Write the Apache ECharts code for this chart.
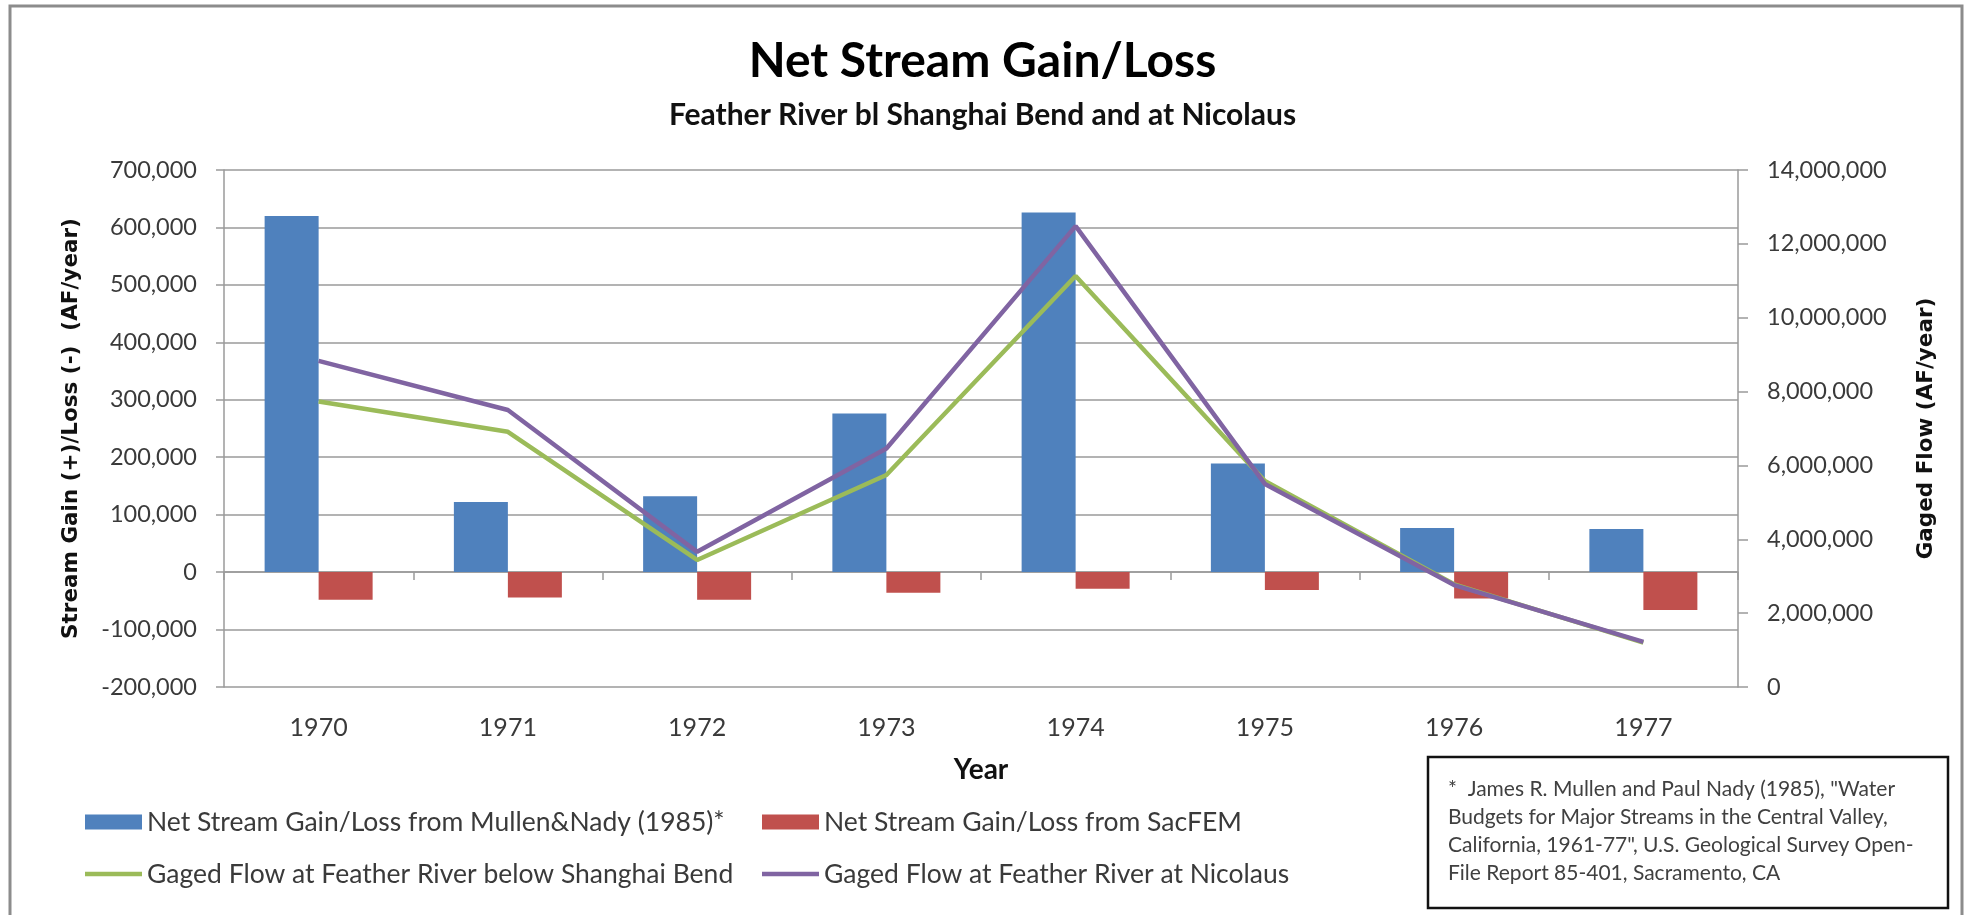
<!DOCTYPE html>
<html>
<head>
<meta charset="utf-8">
<script src="https://cdn.jsdelivr.net/npm/echarts@6/dist/echarts.min.js"></script>
<style>
  html, body { margin: 0; padding: 0; background: #fff; }
  #chart { width: 1965px; height: 915px; }
</style>
</head>
<body>
<div id="chart"></div>
<script>
const years = ["1970", "1971", "1972", "1973", "1974", "1975", "1976", "1977"];
// left axis, AF/year
const mullenNady = [620000, 122000, 132000, 276000, 626000, 189000, 77000, 75000];
const sacFem = [-48000, -44000, -48000, -36000, -29000, -31000, -46000, -66000];
// right axis, AF/year
const shanghaiBend = [7730000, 6910000, 3440000, 5740000, 11130000, 5580000, 2780000, 1200000];
const nicolaus = [8830000, 7500000, 3660000, 6460000, 12480000, 5500000, 2760000, 1220000];

const names = [
  "Net Stream Gain/Loss from Mullen&Nady (1985)*",
  "Net Stream Gain/Loss from SacFEM",
  "Gaged Flow at Feather River below Shanghai Bend",
  "Gaged Flow at Feather River at Nicolaus",
];
const footnote = [
  '*  James R. Mullen and Paul Nady (1985), "Water',
  "Budgets for Major Streams in the Central Valley,",
  'California, 1961-77", U.S. Geological Survey Open-',
  "File Report 85-401, Sacramento, CA",
];

const FONT = "Lato";
const AXIS_NAME_FONT = "DejaVu Sans";
const TXT = "#3a3a3a";
const GRID_GRAY = "#9a9a9a";
const LINE_ICON = "path://M0,0H57V4.5H0Z";
const fmt = (v) => Number(v).toLocaleString("en-US");

const chart = echarts.init(document.getElementById("chart"));

const legendText = { fontFamily: FONT, fontSize: 26.5, color: TXT, lineHeight: 30 };
const legendBase = {
  orient: "vertical",
  top: 807,
  padding: 0,
  itemWidth: 57,
  itemHeight: 15,
  itemGap: 22,
  textStyle: legendText,
};

chart.setOption({
  animation: false,
  backgroundColor: "#fff",
  title: [
    {
      text: "Net Stream Gain/Loss",
      left: "center",
      top: 33,
      textStyle: { fontFamily: FONT, fontWeight: "bold", fontSize: 48, color: "#000" },
    },
    {
      text: "Feather River bl Shanghai Bend and at Nicolaus",
      left: "center",
      top: 95,
      textStyle: { fontFamily: FONT, fontWeight: "bold", fontSize: 30, color: "#111" },
    },
  ],
  grid: { left: 224, right: 227, top: 170, bottom: 228, containLabel: false, outerBoundsMode: "none" },
  legend: [
    Object.assign({}, legendBase, {
      left: 85,
      data: [{ name: names[0], icon: "rect" }, { name: names[2], icon: LINE_ICON }],
    }),
    Object.assign({}, legendBase, {
      left: 762,
      data: [{ name: names[1], icon: "rect" }, { name: names[3], icon: LINE_ICON }],
    }),
  ],
  xAxis: [
    {
      type: "category",
      data: years,
      position: "bottom",
      axisLine: { onZero: true, onZeroAxisIndex: 0, lineStyle: { color: GRID_GRAY, width: 1.5 } },
      axisTick: { show: true, length: 8, lineStyle: { color: GRID_GRAY, width: 1.5 } },
      axisLabel: { show: false },
    },
    {
      type: "category",
      data: years,
      position: "bottom",
      axisLine: { show: false, onZero: false },
      axisTick: { show: false },
      axisLabel: { margin: 28, fontFamily: FONT, fontSize: 25, color: TXT },
      name: "Year",
      nameLocation: "middle",
      nameGap: 69,
      nameTextStyle: { fontFamily: FONT, fontWeight: "bold", fontSize: 28, color: "#111" },
    },
  ],
  yAxis: [
    {
      type: "value",
      min: -200000,
      max: 700000,
      interval: 100000,
      axisLine: { show: true, lineStyle: { color: GRID_GRAY, width: 1.5 } },
      axisTick: { show: true, length: 8, lineStyle: { color: GRID_GRAY, width: 1.5 } },
      splitLine: { lineStyle: { color: GRID_GRAY, width: 1.5 } },
      axisLabel: { margin: 27, fontFamily: FONT, fontSize: 23.5, color: TXT, formatter: fmt },
      name: "Stream Gain (+)/Loss (-)  (AF/year)",
      nameLocation: "middle",
      nameRotate: 90,
      nameGap: 142,
      nameTextStyle: { fontFamily: AXIS_NAME_FONT, fontWeight: "bold", fontSize: 21.5, color: "#111" },
    },
    {
      type: "value",
      position: "right",
      min: 0,
      max: 14000000,
      interval: 2000000,
      axisLine: { show: true, lineStyle: { color: GRID_GRAY, width: 1.5 } },
      axisTick: { show: true, length: 10, lineStyle: { color: GRID_GRAY, width: 1.5 } },
      splitLine: { show: false },
      axisLabel: { margin: 29, fontFamily: FONT, fontSize: 23.5, color: TXT, formatter: fmt },
      name: "Gaged Flow (AF/year)",
      nameLocation: "middle",
      nameRotate: 90,
      nameGap: 177,
      nameTextStyle: { fontFamily: AXIS_NAME_FONT, fontWeight: "bold", fontSize: 21.5, color: "#111" },
    },
  ],
  series: [
    {
      name: names[0],
      type: "bar",
      data: mullenNady,
      barWidth: 54,
      barGap: "0%",
      itemStyle: { color: "#4F81BD" },
    },
    {
      name: names[1],
      type: "bar",
      data: sacFem,
      barWidth: 54,
      barGap: "0%",
      itemStyle: { color: "#C0504D" },
    },
    {
      name: names[2],
      type: "line",
      yAxisIndex: 1,
      data: shanghaiBend,
      symbol: "none",
      lineStyle: { color: "#9BBB59", width: 4.5 },
      itemStyle: { color: "#9BBB59" },
    },
    {
      name: names[3],
      type: "line",
      yAxisIndex: 1,
      data: nicolaus,
      symbol: "none",
      lineStyle: { color: "#8064A2", width: 4.5 },
      itemStyle: { color: "#8064A2" },
    },
  ],
  graphic: [
    {
      type: "rect",
      shape: { x: 10, y: 6, width: 1952, height: 930 },
      style: { fill: null, stroke: "#8c8c8c", lineWidth: 3 },
      silent: true,
    },
    {
      type: "rect",
      shape: { x: 1428, y: 757, width: 520, height: 151 },
      style: { fill: "#fff", stroke: "#111", lineWidth: 2.5 },
      silent: true,
    },
    {
      type: "text",
      x: 1448,
      y: 775,
      style: {
        text: footnote.join("\n"),
        fontFamily: FONT,
        fontSize: 21,
        lineHeight: 28,
        fill: "#404040",
        verticalAlign: "top",
      },
      silent: true,
    },
  ],
});
</script>
</body>
</html>
